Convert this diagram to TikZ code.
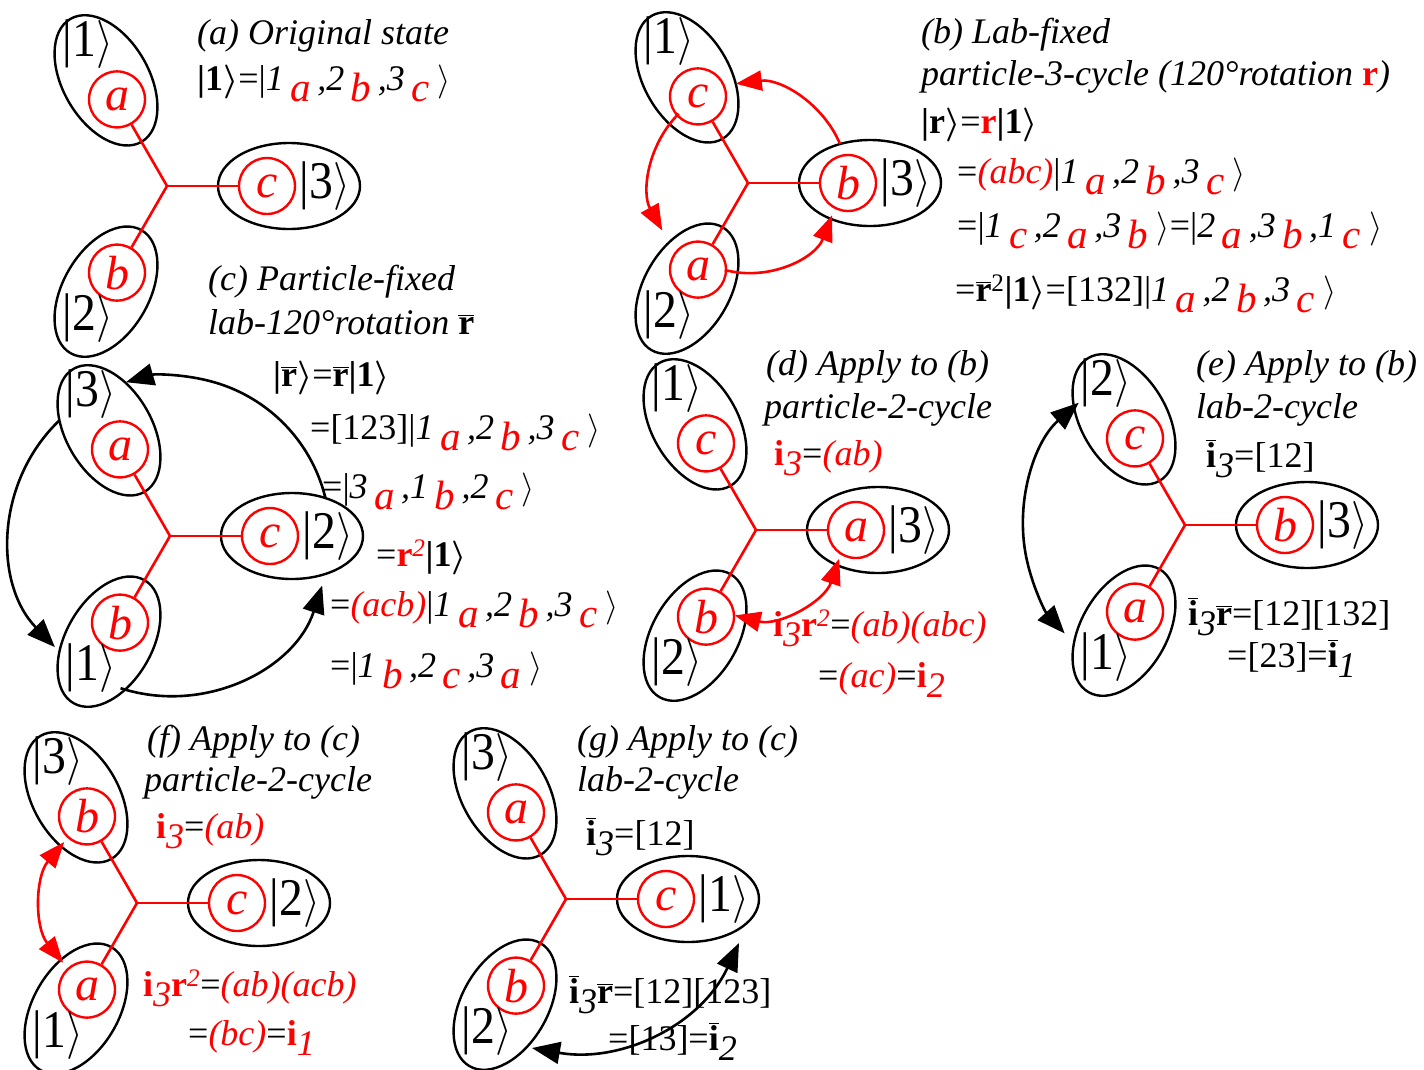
\documentclass[tikz,border=0pt]{standalone}
\usepackage{fontspec}
\setmainfont{Liberation Serif}
\usetikzlibrary{shapes.geometric,arrows.meta,calc}
\newcommand\rsc{3.6}
\newcommand\sbr[1]{\hspace{0.18em}\raisebox{-0.32em}{\textcolor{red}{\fontsize{41}{44}\selectfont\itshape #1}}\hspace{0.18em}}
\newcommand\sbk[1]{\raisebox{-0.28em}{\itshape #1}}
\newcommand\ra{\scalebox{\rsc}{\fontsize{10}{12}\selectfont$\rangle$}}
\newcommand\rab{\scalebox{\rsc}{\fontsize{10}{12}\selectfont\boldmath$\rangle$}}
\newcommand\barr{\ensuremath{\overline{\mbox{\textbf{r}}}}}
\newcommand\bari{\ensuremath{\overline{\mbox{\textbf{i}}}}}
\newcommand\kabc[6]{|\textit{#1}\sbr{#2}\textit{,#3}\sbr{#4}\textit{,#5}\sbr{#6}\hspace{0.05em}\ra}
\newcommand\kt[1]{\scalebox{0.9}[1]{|#1\ra}}
\newcommand\drawmol[9]{%
 \coordinate (#1J) at (#2,#3);
 \node[ell,rotate=0] (#1E0) at ($(#1J)+(0:122pt)$) {};
 \node[ell,rotate=120] (#1E1) at ($(#1J)+(120:122pt)$) {};
 \node[ell,rotate=240] (#1E2) at ($(#1J)+(240:122pt)$) {};
 \node[ptc] (#1P0) at ($(#1J)+(0:100pt)$) {#4};
 \node[ptc] (#1P1) at ($(#1J)+(120:100pt)$) {#6};
 \node[ptc] (#1P2) at ($(#1J)+(240:100pt)$) {#8};
 \draw[redline] (#1J) -- (#1P0);
 \draw[redline] (#1J) -- (#1P1);
 \draw[redline] (#1J) -- (#1P2);
 \node[ket] (#1K0) at ($(#1J)+(0:158pt)$) {\kt{#5}};
 \node[ket] (#1K1) at ($(#1J)+(120:158pt)+(0pt,5pt)$) {\kt{#7}};
 \node[ket] (#1K2) at ($(#1J)+(240:158pt)+(0pt,5pt)$) {\kt{#9}};
}
\begin{document}
\begin{tikzpicture}[x=1pt,y=-1pt,
 ell/.style={ellipse,draw=black,line width=2.4pt,minimum width=142pt,minimum height=86pt,inner sep=0pt},
 ptc/.style={circle,draw=red,line width=2.4pt,minimum size=56pt,inner sep=0pt,text=red,font=\fontsize{48}{50}\selectfont\itshape},
 ket/.style={inner sep=0pt,font=\fontsize{53}{56}\selectfont\def\rsc{4.8}},
 ttl/.style={anchor=base west,inner sep=0pt,font=\fontsize{36}{40}\selectfont\itshape},
 fml/.style={anchor=base west,inner sep=0pt,font=\fontsize{36}{40}\selectfont\def\rsc{3.4}},
 redline/.style={draw=red,line width=2.6pt},
 rarr/.style={draw=red,line width=2.6pt,-{Triangle[length=26pt,width=20pt]}},
 rarr2/.style={draw=red,line width=2.6pt,{Triangle[length=26pt,width=20pt]}-{Triangle[length=26pt,width=20pt]}},
 karr/.style={draw=black,line width=2.6pt,-{Triangle[length=28pt,width=22pt]}},
 karr2/.style={draw=black,line width=2.6pt,{Triangle[length=28pt,width=22pt]}-{Triangle[length=28pt,width=22pt]}}]
\useasboundingbox (0,0) rectangle (1424,1069);
% molecules
\drawmol{a}{167}{186}{c}{3}{a}{1}{b}{2}
\drawmol{b}{748}{183}{b}{3}{c}{1}{a}{2}
\drawmol{c}{170}{536}{c}{2}{a}{3}{b}{1}
\drawmol{d}{756}{530}{a}{3}{c}{1}{b}{2}
\drawmol{e}{1185}{525}{b}{3}{c}{2}{a}{1}
\drawmol{f}{137}{903}{c}{2}{b}{3}{a}{1}
\drawmol{g}{566}{899}{c}{1}{a}{3}{b}{2}
% arrows (b)
\coordinate (b1s) at ($(bJ)+(23:100pt)$);
\draw[rarr] (b1s) arc[start angle=23,end angle=97,radius=100pt];
\coordinate (b2s) at ($(bJ)+(135:98pt)$);
\draw[rarr] (b2s) arc[start angle=135,end angle=209,radius=98pt];
\coordinate (b3s) at ($(bJ)+(255:90pt)$);
\draw[rarr] (b3s) arc[start angle=255,end angle=339,radius=90pt];
% arrows (c)
\coordinate (c1s) at ($(cJ)+(14:160pt)$);
\draw[karr] (c1s) arc[start angle=14,end angle=106,radius=160pt];
\coordinate (c2s) at ($(cJ)+(134:160pt)$);
\draw[karr] (c2s) arc[start angle=134,end angle=224,radius=160pt];
\coordinate (c3s) at ($(cJ)+(252:160pt)$);
\draw[karr] (c3s) arc[start angle=252,end angle=342,radius=160pt];
% arrows (d),(e),(f),(g)
\coordinate (d1s) at ($(dJ)+(256:88pt)$);
\draw[rarr2] (d1s) arc[start angle=256,end angle=341,radius=88pt];
\coordinate (e1s) at ($(eJ)+(131:162pt)$);
\draw[karr2] (e1s) arc[start angle=131,end angle=222,radius=162pt];
\coordinate (f1s) at ($(fJ)+(140:95pt)$);
\draw[rarr2] (f1s) arc[start angle=140,end angle=219,radius=95pt];
\coordinate (g1s) at (532,1048);
\coordinate (g1e) at (739,943);
\draw[karr2] (g1s) to[out=-10,in=245] (g1e);
% texts (a)
\node[ttl] (ta1) at (197,44) {(a) Original state};
\node[fml] (ta2) at (197,90) {\textbf{|1}\rab=\kabc{1}{a}{2}{b}{3}{c}};
% texts (b)
\node[ttl] (tb1) at (921,43) {(b) Lab-fixed};
\node[ttl] (tb2) at (921,85) {particle-3-cycle (120°rotation \textcolor{red}{\upshape\bfseries r})};
\node[fml] (tb3) at (921,133) {\textbf{|r}\rab=\textcolor{red}{\textbf{r}}\textbf{|1}\rab};
\node[fml] (tb4) at (957,183) {=\textcolor{red}{\textit{(abc)}}\kabc{1}{a}{2}{b}{3}{c}};
\node[fml] (tb5) at (957,237) {=\kabc{1}{c}{2}{a}{3}{b}=\kabc{2}{a}{3}{b}{1}{c}};
\node[fml] (tb6) at (955,301) {=\barr\textsuperscript{2}\textbf{|1}\rab=[132]\kabc{1}{a}{2}{b}{3}{c}};
% texts (c)
\node[ttl] (tc1) at (208,290) {(c) Particle-fixed};
\node[ttl] (tc2) at (208,334) {lab-120°rotation \upshape\barr};
\node[fml] (tc3) at (273,386) {\textbf{|}\barr\rab=\barr\textbf{|1}\rab};
\node[fml] (tc4) at (310,439) {=[123]\kabc{1}{a}{2}{b}{3}{c}};
\node[fml] (tc5) at (322,498) {=\kabc{3}{a}{1}{b}{2}{c}};
\node[fml] (tc6) at (376,566) {=\textcolor{red}{\textbf{r}\textsuperscript{\textit{2}}}\textbf{|1}\rab};
\node[fml] (tc7) at (330,616) {=\textcolor{red}{\textit{(acb)}}\kabc{1}{a}{2}{b}{3}{c}};
\node[fml] (tc8) at (330,677) {=\kabc{1}{b}{2}{c}{3}{a}};
% texts (d)
\node[ttl] (td1) at (766,375) {(d) Apply to (b)};
\node[ttl] (td2) at (764,418) {particle-2-cycle};
\node[fml] (td3) at (774,465) {\textcolor{red}{\textbf{i}\sbk{3}}=\textcolor{red}{\textit{(ab)}}};
\node[fml] (td4) at (773,636) {\textcolor{red}{\textbf{i}\sbk{3}\textbf{r}\textsuperscript{\textit{2}}}=\textcolor{red}{\textit{(ab)(abc)}}};
\node[fml] (td5) at (818,687) {=\textcolor{red}{\textit{(ac)}}=\textcolor{red}{\textbf{i}\sbk{2}}};
% texts (e)
\node[ttl] (te1) at (1196,375) {(e) Apply to (b)};
\node[ttl] (te2) at (1196,418) {lab-2-cycle};
\node[fml] (te3) at (1206,467) {\bari\sbk{3}=[12]};
\node[fml] (te4) at (1188,625) {\bari\sbk{3}\barr=[12][132]};
\node[fml] (te5) at (1227,667) {=[23]=\bari\sbk{1}};
% texts (f)
\node[ttl] (tf1) at (147,750) {(f) Apply to (c)};
\node[ttl] (tf2) at (144,791) {particle-2-cycle};
\node[fml] (tf3) at (156,838) {\textcolor{red}{\textbf{i}\sbk{3}}=\textcolor{red}{\textit{(ab)}}};
\node[fml] (tf4) at (143,996) {\textcolor{red}{\textbf{i}\sbk{3}\textbf{r}\textsuperscript{\textit{2}}}=\textcolor{red}{\textit{(ab)(acb)}}};
\node[fml] (tf5) at (188,1045) {=\textcolor{red}{\textit{(bc)}}=\textcolor{red}{\textbf{i}\sbk{1}}};
% texts (g)
\node[ttl] (tg1) at (577,750) {(g) Apply to (c)};
\node[ttl] (tg2) at (577,791) {lab-2-cycle};
\node[fml] (tg3) at (586,845) {\bari\sbk{3}=[12]};
\node[fml] (tg4) at (569,1003) {\bari\sbk{3}\barr=[12][123]};
\node[fml] (tg5) at (608,1050) {=[13]=\bari\sbk{2}};
\end{tikzpicture}
\end{document}
